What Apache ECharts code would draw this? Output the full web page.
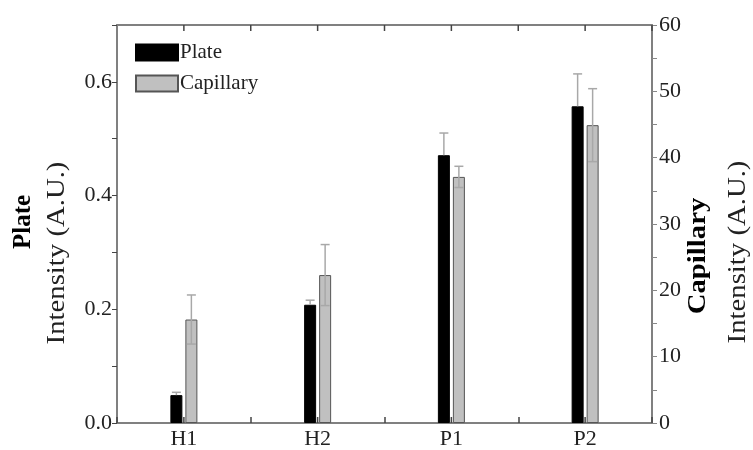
<!DOCTYPE html>
<html>
<head>
<meta charset="utf-8">
<script src="https://cdn.jsdelivr.net/npm/echarts@6/dist/echarts.min.js"></script>
<style>
  html, body { margin: 0; padding: 0; background: #fff; }
  #chart { width: 753px; height: 450px; }
</style>
</head>
<body>
<div id="chart"></div>
<script>
// 数据
var categories = ['H1', 'H2', 'P1', 'P2'];
var plateValues = [0.049, 0.208, 0.471, 0.557];
var plateErrors = [0.005, 0.008, 0.039, 0.057];
var capillaryValues = [15.6, 22.3, 37.1, 44.9];
var capillaryErrors = [3.7, 4.6, 1.6, 5.5];
var leftTicks = [0, 0.7, 0.1];
var rightTicks = [0, 60, 5];

(function () {
  var myChart = echarts.init(document.getElementById('chart'));
  var serif = 'Liberation Serif';
  var axisGray = '#808080';
  var tickColor = '#444';
  var barW = 12;
  var half = 7.5; // 柱子中心偏移

  function errData(vals, errs) {
    return vals.map(function (v, i) { return [i, v, errs[i]]; });
  }

  // 误差棒
  function errRender(offset, upperOnly) {
    return function (params, api) {
      var i = api.value(0), v = api.value(1), e = api.value(2);
      var top = api.coord([i, v + e]);
      var bot = api.coord([i, upperOnly ? v : v - e]);
      var x = top[0] + offset;
      var style = { stroke: '#a8a8a8', lineWidth: 1.5 };
      var children = [
        { type: 'line', shape: { x1: x, y1: top[1], x2: x, y2: bot[1] }, style: style },
        { type: 'line', shape: { x1: x - 4.5, y1: top[1], x2: x + 4.5, y2: top[1] }, style: style }
      ];
      if (!upperOnly) {
        children.push({ type: 'line', shape: { x1: x - 4.5, y1: bot[1], x2: x + 4.5, y2: bot[1] }, style: style });
      }
      return { type: 'group', children: children };
    };
  }

  // 顶部刻度 + 底部类目中心刻度（按类目轴刻度计算）
  function tickRender(params, api) {
    var i = api.value(0);
    var top = api.coord([i, leftTicks[1]]);
    var bot = api.coord([i, leftTicks[0]]);
    var band = api.size([1, 0])[0];
    var style = { stroke: tickColor, lineWidth: 1.5 };
    var xs = [top[0], top[0] + band / 2];
    var children = xs.map(function (x) {
      return { type: 'line', shape: { x1: x, y1: top[1], x2: x, y2: top[1] + 6 }, style: style };
    });
    children.push({ type: 'line', shape: { x1: bot[0], y1: bot[1], x2: bot[0], y2: bot[1] - 6 }, style: style });
    return { type: 'group', children: children };
  }

  var option = {
    animation: false,
    grid: { left: 117, right: 101, top: 25, bottom: 27 },
    legend: {
      orient: 'vertical',
      left: 135, top: 42,
      icon: 'rect',
      itemWidth: 42, itemHeight: 16, itemGap: 10,
      padding: 0,
      data: ['Plate', 'Capillary'],
      textStyle: { fontFamily: serif, fontSize: 21, color: '#222', padding: [0, 0, 0, -3] }
    },
    xAxis: [{
      type: 'category',
      data: categories,
      axisLine: { onZero: false, lineStyle: { color: axisGray, width: 2 } },
      axisTick: { show: true, inside: true, length: 6, interval: 0, lineStyle: { color: tickColor, width: 1.5 } },
      axisLabel: { fontFamily: serif, fontSize: 22, color: '#222', margin: 5 }
    }, {
      // 顶部边框
      type: 'category',
      data: categories,
      position: 'top',
      axisLine: { show: true, onZero: false, lineStyle: { color: axisGray, width: 2 } },
      axisTick: { show: false },
      axisLabel: { show: false },
      splitLine: { show: false }
    }],
    yAxis: [{
      type: 'value',
      min: leftTicks[0], max: leftTicks[1], interval: leftTicks[2],
      axisLine: { show: true, lineStyle: { color: axisGray, width: 2 } },
      axisTick: { show: true, length: 5, lineStyle: { color: tickColor } },
      axisLabel: {
        fontFamily: serif, fontSize: 22, color: '#222', margin: 5,
        formatter: function (v) {
          var k = Math.round(v * 10);
          return (k % 2 === 0 && k < 7) ? v.toFixed(1) : '';
        }
      },
      splitLine: { show: false }
    }, {
      type: 'value',
      min: rightTicks[0], max: rightTicks[1], interval: rightTicks[2],
      axisLine: { show: true, lineStyle: { color: axisGray, width: 2 } },
      axisTick: { show: true, length: 5, lineStyle: { color: '#888' } },
      axisLabel: {
        fontFamily: serif, fontSize: 22, color: '#222', margin: 7,
        formatter: function (v) { return v % 10 === 0 ? String(v) : ''; }
      },
      splitLine: { show: false }
    }],
    series: [{
      name: 'Plate',
      type: 'bar',
      yAxisIndex: 0,
      barWidth: barW,
      barGap: '25%',
      data: plateValues,
      itemStyle: { color: '#000', borderColor: '#000', borderWidth: 1 }
    }, {
      name: 'Capillary',
      type: 'bar',
      yAxisIndex: 1,
      barWidth: barW,
      data: capillaryValues,
      itemStyle: { color: '#c0c0c0', borderColor: '#555', borderWidth: 1 }
    }, {
      type: 'custom',
      yAxisIndex: 0,
      data: errData(plateValues, plateErrors),
      renderItem: errRender(-half, true),
      z: 3
    }, {
      type: 'custom',
      yAxisIndex: 1,
      data: errData(capillaryValues, capillaryErrors),
      renderItem: errRender(half, false),
      z: 3
    }, {
      type: 'custom',
      yAxisIndex: 0,
      silent: true,
      clip: false,
      data: categories.map(function (c, i) { return [i, 0]; }),
      renderItem: tickRender,
      z: 4
    }],
    // 坐标轴标题
    graphic: [{
      type: 'text', x: 24, y: 222, rotation: Math.PI / 2,
      style: { text: 'Plate', font: 'bold 25px "Liberation Serif"', fill: '#000', align: 'center', verticalAlign: 'middle' }
    }, {
      type: 'text', x: 57, y: 253, rotation: Math.PI / 2, scaleX: 1.15,
      style: { text: 'Intensity (A.U.)', font: '25px "Liberation Serif"', fill: '#222', align: 'center', verticalAlign: 'middle' }
    }, {
      type: 'text', x: 699, y: 256, rotation: Math.PI / 2, scaleX: 1.15,
      style: { text: 'Capillary', font: 'bold 25px "Liberation Serif"', fill: '#000', align: 'center', verticalAlign: 'middle' }
    }, {
      type: 'text', x: 738, y: 252, rotation: Math.PI / 2, scaleX: 1.15,
      style: { text: 'Intensity (A.U.)', font: '25px "Liberation Serif"', fill: '#222', align: 'center', verticalAlign: 'middle' }
    }]
  };
  myChart.setOption(option);
})();
</script>
</body>
</html>
